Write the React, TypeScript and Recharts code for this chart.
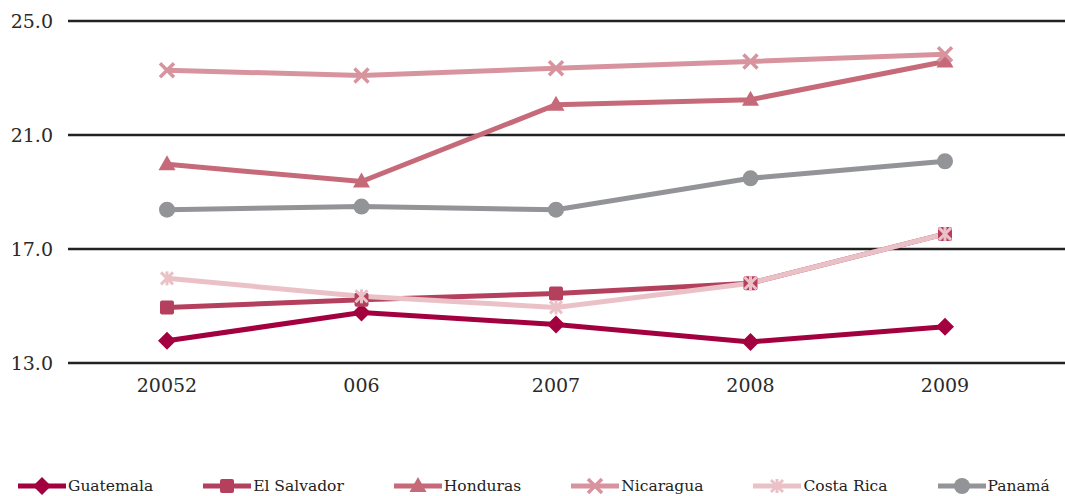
import React from 'react';
import { LineChart, Line, XAxis, YAxis, CartesianGrid, Legend } from 'recharts';

const categories = ['20052', '006', '2007', '2008', '2009'];
const guatemala = [13.78, 14.77, 14.35, 13.74, 14.27];
const elSalvador = [14.95, 15.22, 15.44, 15.8, 17.53];
const honduras = [19.97, 19.37, 22.06, 22.24, 23.58];
const nicaragua = [23.27, 23.09, 23.34, 23.58, 23.83];
const costaRica = [15.97, 15.34, 14.95, 15.8, 17.53];
const panama = [18.38, 18.49, 18.38, 19.48, 20.08];
const yTicks = [13, 17, 21, 25];

const seriesNames = ['Guatemala', 'El Salvador', 'Honduras', 'Nicaragua', 'Costa Rica', 'Panamá'];
const seriesValues = [guatemala, elSalvador, honduras, nicaragua, costaRica, panama];
const colors = ['#A3003F', '#B5405E', '#C66A7A', '#D8949E', '#EBC1C8', '#939497'];
const shapes = ['diamond', 'square', 'triangle', 'x', 'star', 'circle'];

const data = categories.map((c, i) => {
  const row: any = { cat: c };
  seriesNames.forEach((n, k) => (row[n] = seriesValues[k][i]));
  return row;
});

const FONT = 'DejaVu Serif';

function Marker({ shape, cx, cy, color }: any) {
  if (cx == null || cy == null) return null;
  switch (shape) {
    case 'diamond':
      return <polygon points={`${cx},${cy - 9} ${cx + 9},${cy} ${cx},${cy + 9} ${cx - 9},${cy}`} fill={color} />;
    case 'square':
      return <rect x={cx - 7} y={cy - 7} width={14} height={14} rx={2} fill={color} />;
    case 'triangle':
      return <polygon points={`${cx},${cy - 9} ${cx + 8.5},${cy + 6} ${cx - 8.5},${cy + 6}`} fill={color} />;
    case 'x':
      return (
        <g stroke={color} strokeWidth={3.5}>
          <line x1={cx - 7} y1={cy - 7} x2={cx + 7} y2={cy + 7} />
          <line x1={cx - 7} y1={cy + 7} x2={cx + 7} y2={cy - 7} />
        </g>
      );
    case 'star':
      return (
        <g stroke={color} strokeWidth={3}>
          <line x1={cx - 6} y1={cy - 6} x2={cx + 6} y2={cy + 6} />
          <line x1={cx - 6} y1={cy + 6} x2={cx + 6} y2={cy - 6} />
          <line x1={cx} y1={cy - 7} x2={cx} y2={cy + 7} />
        </g>
      );
    default:
      return <circle cx={cx} cy={cy} r={8} fill={color} />;
  }
}

function LegendContent() {
  return (
    <div style={{ display: 'flex', alignItems: 'center', gap: 50, paddingLeft: 18, whiteSpace: 'nowrap' }}>
      {seriesNames.map((n, k) => (
        <div key={n} style={{ display: 'flex', alignItems: 'center' }}>
          <svg width={50} height={20} style={{ display: 'block' }}>
            <line x1={0} y1={10} x2={48} y2={10} stroke={colors[k]} strokeWidth={5} />
            <Marker shape={shapes[k]} cx={24} cy={10} color={colors[k]} />
          </svg>
          <span style={{ fontFamily: FONT, fontSize: 15.5, color: '#222' }}>{n}</span>
        </div>
      ))}
    </div>
  );
}

export default function App() {
  return (
    <div style={{ position: 'absolute', left: 0, top: 0, fontFamily: FONT }}>
      <LineChart width={1065} height={496} data={data} margin={{ top: 21, right: 0, left: 0, bottom: 0 }} style={{ fontFamily: FONT }}>
        <CartesianGrid vertical={false} stroke="#222" strokeWidth={2.5} />
        <XAxis
          dataKey="cat"
          axisLine={false}
          tickLine={false}
          tickSize={0}
          tickMargin={16}
          padding={{ left: 99, right: 120 }}
          height={113}
          tick={{ fontFamily: FONT, fontSize: 19, fill: '#2a2a2a' }}
        />
        <YAxis
          domain={[13, 25]}
          ticks={yTicks}
          interval={0}
          width={68}
          axisLine={false}
          tickLine={false}
          tickSize={0}
          tickMargin={15}
          tickFormatter={(v: number) => v.toFixed(1)}
          tick={{ fontFamily: FONT, fontSize: 19, fill: '#2a2a2a' }}
        />
        {seriesNames.map((n, k) => (
          <Line
            key={n}
            dataKey={n}
            stroke={colors[k]}
            strokeWidth={5}
            isAnimationActive={false}
            dot={(p: any) => <Marker key={`${n}-${p.index}`} shape={shapes[k]} cx={p.cx} cy={p.cy} color={colors[k]} />}
            activeDot={false}
          />
        ))}
        <Legend verticalAlign="bottom" align="left" content={<LegendContent />} wrapperStyle={{ bottom: 0, left: 0, width: 1065 }} />
      </LineChart>
    </div>
  );
}
